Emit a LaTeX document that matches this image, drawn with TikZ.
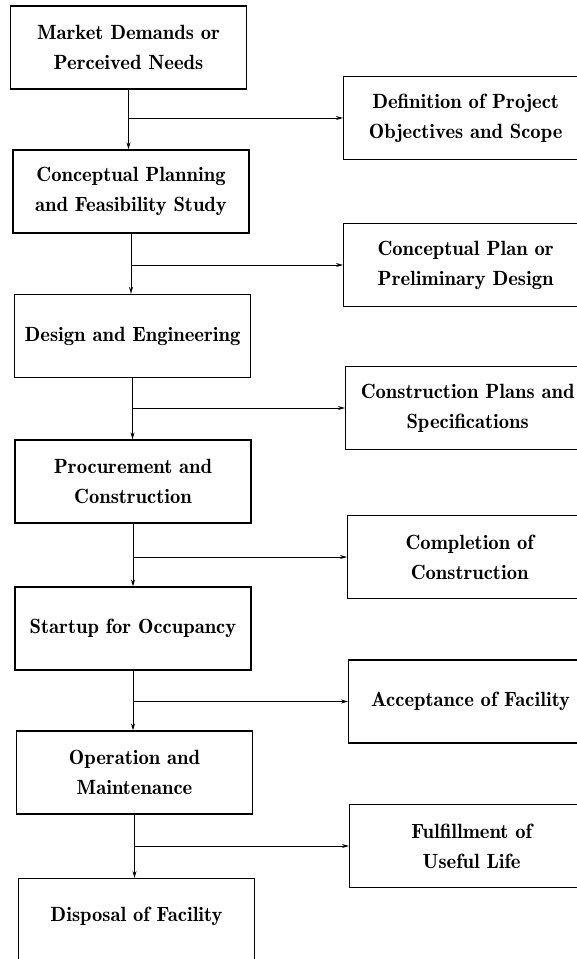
\documentclass[tikz,border=0pt]{standalone}
\usetikzlibrary{arrows.meta}
\begin{document}
\begin{tikzpicture}[x=1pt,y=-1pt,
  lbl/.style={font=\fontsize{20.6}{30}\fontseries{b}\selectfont},
  box/.style={lbl, draw, line width=1.3pt, minimum width=236pt, minimum height=83pt, inner sep=0pt,
    align=center},
  rbox/.style={box, minimum width=244pt},
  conn/.style={line width=0.9pt, -{Stealth[length=7pt,width=4pt]}}]
\clip (0,0) rectangle (577,959);
\fill[white] (0,0) rectangle (577,959);
% left column
\node[box] (L1) at (128.5,47.5) {Market Demands or\\Perceived Needs};
\node[box] (L2) at (131,191.5) {Conceptual Planning\\and Feasibility Study};
\node[box] (L3) at (132.5,336) {Design and Engineering};
\node[box] (L4) at (133,481.5) {Procurement and\\Construction};
\node[box] (L5) at (133,628.5) {Startup for Occupancy};
\node[box] (L6) at (134.5,772.5) {Operation and\\Maintenance};
\node[box, minimum height=140pt, anchor=north] (L7) at (136.5,878) {};
\node[lbl] (L7t) at (136.5,916) {Disposal of Facility};
% right column
\node[rbox, anchor=west] (R1) at (343,118) {Definition of Project\\Objectives and Scope};
\node[rbox, anchor=west] (R2) at (343,265) {Conceptual Plan or\\Preliminary Design};
\node[rbox, anchor=west] (R3) at (345,408) {Construction Plans and\\Specifications};
\node[rbox, anchor=west] (R4) at (347,557) {Completion of\\Construction};
\node[rbox, anchor=west] (R5) at (348,701.5) {Acceptance of Facility};
\node[rbox, anchor=west] (R6) at (349,846) {Fulfillment of\\Useful Life};
% vertical connectors
\draw[conn] (L1.south) -- (L1.south |- L2.north);
\draw[conn] (L2.south) -- (L2.south |- L3.north);
\draw[conn] (L3.south) -- (L3.south |- L4.north);
\draw[conn] (L4.south) -- (L4.south |- L5.north);
\draw[conn] (L5.south) -- (L5.south |- L6.north);
\draw[conn] (L6.south) -- (L6.south |- L7.north);
% branches
\draw[conn] (L1.south |- R1.west) -- (R1.west);
\draw[conn] (L2.south |- R2.west) -- (R2.west);
\draw[conn] (L3.south |- R3.west) -- (R3.west);
\draw[conn] (L4.south |- R4.west) -- (R4.west);
\draw[conn] (L5.south |- R5.west) -- (R5.west);
\draw[conn] (L6.south |- R6.west) -- (R6.west);
\end{tikzpicture}
\end{document}
